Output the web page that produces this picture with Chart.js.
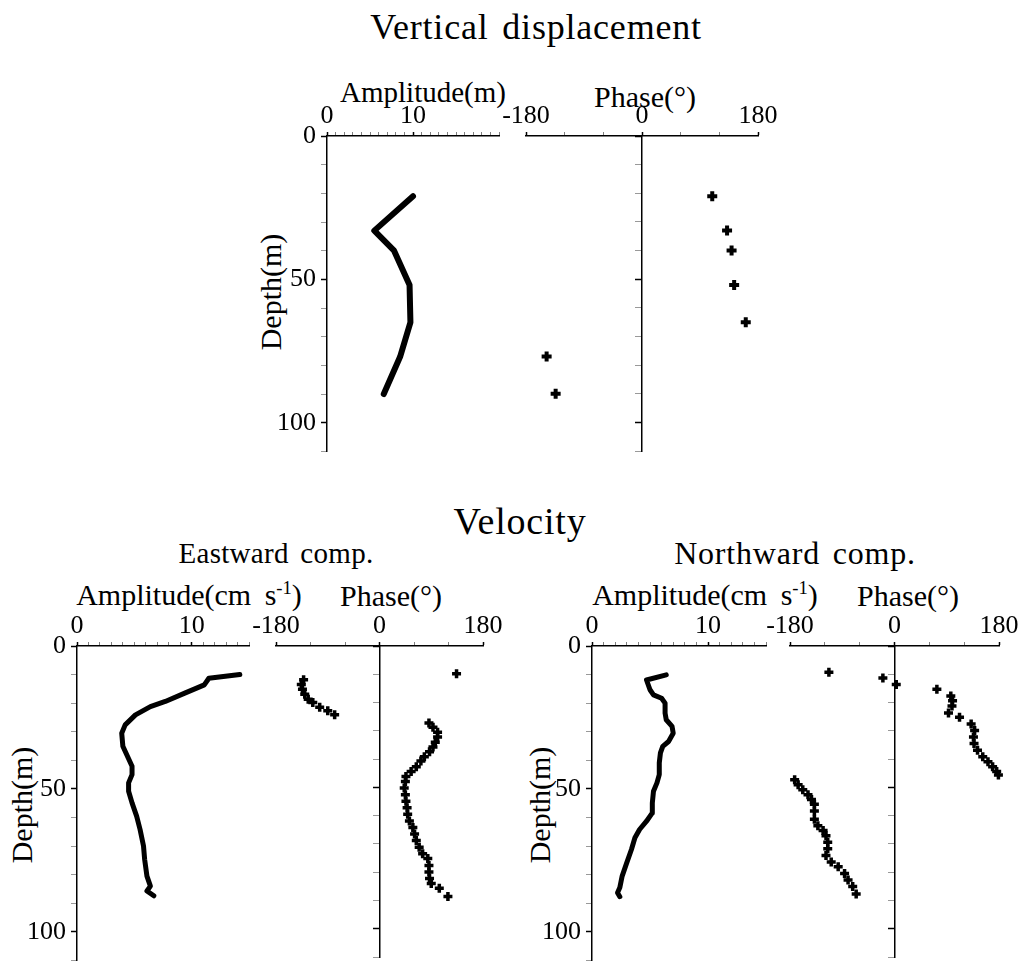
<!DOCTYPE html>
<html>
<head>
<meta charset="utf-8">
<script src="https://cdn.jsdelivr.net/npm/chart.js@4.4.0/dist/chart.umd.min.js"></script>
<style>
  body { margin: 0; background: #fff; }
  #page { position: relative; width: 1025px; height: 967px; overflow: hidden;
          font-family: "Liberation Serif", "Times New Roman", serif; color: #000; }
  canvas { position: absolute; }
  .lbl { position: absolute; transform: translate(-50%, -50%); white-space: nowrap; line-height: 1; }
  .rot { transform: translate(-50%, -50%) rotate(-90deg); }
  .title { letter-spacing: 0.8px; word-spacing: 4px; }
  .unit { word-spacing: 6px; }
  sup { font-size: 0.62em; line-height: 0; vertical-align: 0.6em; }
</style>
</head>
<body>
<div id="page">
  <div class="lbl title" style="left:536px;top:27px;font-size:36px">Vertical displacement</div>
  <div class="lbl" style="left:423px;top:92px;font-size:29px">Amplitude(m)</div>
  <div class="lbl" style="left:645px;top:97px;font-size:30px">Phase(°)</div>
  <div class="lbl rot" style="left:271px;top:292px;font-size:30px">Depth(m)</div>

  <div class="lbl title" style="left:520px;top:521px;font-size:38px">Velocity</div>
  <div class="lbl title" style="left:276px;top:553px;font-size:29px;letter-spacing:0.3px">Eastward comp.</div>
  <div class="lbl title" style="left:795px;top:553px;font-size:32px">Northward comp.</div>
  <div class="lbl unit" style="left:189px;top:595px;font-size:30px">Amplitude(cm s<sup>-1</sup>)</div>
  <div class="lbl" style="left:391px;top:596px;font-size:30px">Phase(°)</div>
  <div class="lbl unit" style="left:705px;top:595px;font-size:30px">Amplitude(cm s<sup>-1</sup>)</div>
  <div class="lbl" style="left:908px;top:596px;font-size:30px">Phase(°)</div>
  <div class="lbl rot" style="left:22px;top:805px;font-size:30px">Depth(m)</div>
  <div class="lbl rot" style="left:540px;top:805px;font-size:30px">Depth(m)</div>

  <canvas id="vdAmpChart" width="250" height="376" style="left:257px;top:96px"></canvas>
  <canvas id="vdPhaseChart" width="292" height="364" style="left:496px;top:96px"></canvas>
  <canvas id="ewAmpChart" width="250" height="375" style="left:7px;top:606px"></canvas>
  <canvas id="ewPhaseChart" width="267" height="359" style="left:246px;top:606px"></canvas>
  <canvas id="nsAmpChart" width="252" height="375" style="left:522px;top:606px"></canvas>
  <canvas id="nsPhaseChart" width="263" height="359" style="left:760px;top:606px"></canvas>
</div>

<script>
// vertical displacement (m) and phase (deg) against depth (m)
const vdDepth = [21, 33, 40, 52, 65, 77, 90];
const vdAmp = [10.0, 5.5, 7.8, 9.6, 9.7, 8.5, 6.6];
const vdPhase = [109, 132, 139, 143, 161, -148, -134];

// eastward velocity amplitude (cm/s)
const ewAmpDepth = [10, 11.3, 13.6, 16.5, 19.4, 21.2, 24.1, 27.6, 30.5, 35.1, 38.6, 42.1, 45, 47.9,
  50.8, 54.9, 59.5, 64.2, 70, 74.7, 80.5, 84, 85.7, 87.4];
const ewAmp = [14.2, 11.5, 11.1, 9.4, 7.7, 6.4, 5.1, 4.2, 3.9, 4.0, 4.4, 4.8, 4.8, 4.5,
  4.5, 4.8, 5.2, 5.5, 5.8, 5.9, 6.1, 6.4, 6.1, 6.7];

// eastward velocity phase (deg)
const ewPhaseDepth = [9.8, 11.9, 13.6, 15.3, 17.1, 18.8, 20, 21.7, 22.9, 24.3,
  27.2, 28.7, 30.5, 32.2, 34, 35.7, 37.4, 39.2, 40.7, 42.7, 44.4, 46.2, 47.9, 50.2, 52.6,
  54.9, 57.2, 59.5, 61.9, 64.2, 66.5, 68.8, 71.2, 73.5, 75.2, 77.6, 79.9, 82.2, 84, 85.7, 88.6];
const ewPhase = [134, -132, -136, -134, -130, -124, -116, -104, -90, -78,
  86, 93, 101, 101, 97, 93, 87, 78, 72, 64, 55, 46, 45, 43, 45,
  46, 48, 49, 52, 58, 61, 64, 69, 75, 84, 86, 86, 87, 90, 104, 119];

// northward velocity amplitude (cm/s)
const nsAmpDepth = [10.1, 11.9, 15.3, 17.1, 18.3, 20, 23.5, 25.8, 28.1, 30.5, 33.4, 35.1, 37.4, 40.9,
  45, 47.9, 50.8, 54.9, 58.4, 61.3, 64.2, 67.1, 71.2, 75.8, 80.5, 84.5, 86.3, 87.7];
const nsAmp = [6.4, 4.7, 5.0, 5.3, 6.0, 6.3, 6.3, 6.4, 6.9, 7.0, 6.6, 6.1, 5.9, 5.8,
  5.8, 5.6, 5.3, 5.2, 5.2, 4.7, 4.1, 3.7, 3.4, 3.0, 2.6, 2.4, 2.2, 2.4];

// northward velocity phase (deg)
const nsPhaseDepth = [9.3, 11.3, 13.6, 15.3, 17.7, 19.4, 21.2, 23.7, 25.2, 27.6, 29.9, 32.2, 34.5,
  36.9, 39.2, 40.9, 42.7, 44.4, 45.6, 47.3, 49.1, 50.8, 52.6, 54.3, 56, 58.4, 61.3, 63.6, 65.3,
  67.1, 69.4, 71.7, 74.1, 76.4, 78.1, 80.5, 82.8, 85.1, 87.7];
const nsPhase = [-113, -20, 3, 73, 97, 100, 99, 93, 112, 132, 138, 136, 137,
  143, 152, 161, 169, 176, 179, -172, -166, -158, -149, -143, -138, -138, -138, -132, -123,
  -118, -115, -115, -118, -109, -97, -86, -80, -72, -66];

const ampTicks = [0, 10];
const phaseTicks = [-180, 0, 180];
const depthTicks = [0, 50, 100];

const tickFont = { family: "Liberation Serif", size: 26 };

function toPoints(xs, ys) {
  return ys.map((y, i) => ({ x: xs[i], y: y }));
}

// depth axis, 0 at the top; in the phase panels it sits on the 0 deg line
function depthAxis(atZero) {
  return {
    type: "linear",
    reverse: true,
    min: 0,
    max: 110,
    position: atZero ? { x: 0 } : "left",
    afterFit: (s) => { if (!atZero) s.width = 50; },
    ticks: {
      display: !atZero,
      stepSize: 10,
      autoSkip: false,
      padding: 5,
      color: "#000",
      font: tickFont,
      callback: (v) => (depthTicks.includes(v) ? v : "")
    },
    grid: {
      drawOnChartArea: false,
      tickLength: 6,
      tickColor: (c) => (depthTicks.includes(c.tick.value) ? "#000" : "rgba(0,0,0,0.4)"),
      tickWidth: (c) => (depthTicks.includes(c.tick.value) ? 1.5 : 1)
    },
    border: { color: "#000", width: 1.5 }
  };
}

function topAxis(min, max, step, labels) {
  return {
    type: "linear",
    position: "top",
    min: min,
    max: max,
    afterFit: (s) => { s.height = 40; },
    ticks: {
      stepSize: step,
      autoSkip: false,
      maxRotation: 0,
      padding: 0,
      color: "#000",
      font: tickFont,
      callback: (v) => (labels.includes(v) ? v : "")
    },
    grid: {
      drawOnChartArea: false,
      tickLength: 4,
      tickColor: (c) => (labels.includes(c.tick.value) ? "#000" : "rgba(0,0,0,0.5)"),
      tickWidth: (c) => (labels.includes(c.tick.value) ? 1.5 : 1)
    },
    border: { color: "#000", width: 1.5 }
  };
}

const baseOptions = {
  responsive: false,
  animation: false,
  events: [],
  plugins: { legend: { display: false }, tooltip: { enabled: false } }
};

function ampChart(id, xMax, depth, amp, lineWidth) {
  return new Chart(document.getElementById(id), {
    type: "scatter",
    data: {
      datasets: [{
        data: toPoints(amp, depth),
        showLine: true,
        borderColor: "#000",
        borderWidth: lineWidth,
        borderJoinStyle: "round",
        borderCapStyle: "round",
        pointRadius: 0,
        clip: false
      }]
    },
    options: {
      ...baseOptions,
      layout: { padding: { left: 20, right: 8, top: 0, bottom: 20 } },
      scales: {
        x: topAxis(0, xMax, 1, ampTicks),
        y: depthAxis(false)
      }
    }
  });
}

function phaseChart(id, depth, phase, radius, width, padRight, padBottom) {
  return new Chart(document.getElementById(id), {
    type: "scatter",
    data: {
      datasets: [{
        data: toPoints(phase, depth),
        pointStyle: "cross",
        pointRadius: radius,
        borderWidth: width,
        borderColor: "#000",
        backgroundColor: "#000",
        clip: false
      }]
    },
    options: {
      ...baseOptions,
      layout: { padding: { left: 30, right: padRight, top: 0, bottom: padBottom } },
      scales: {
        x: topAxis(-180, 180, 60, phaseTicks),
        y: depthAxis(true)
      }
    }
  });
}

ampChart("vdAmpChart", 20, vdDepth, vdAmp, 6);
phaseChart("vdPhaseChart", vdDepth, vdPhase, 5, 4, 30, 8);
ampChart("ewAmpChart", 15, ewAmpDepth, ewAmp, 5);
phaseChart("ewPhaseChart", ewPhaseDepth, ewPhase, 4.5, 3.5, 30, 4);
ampChart("nsAmpChart", 15, nsAmpDepth, nsAmp, 5);
phaseChart("nsPhaseChart", nsPhaseDepth, nsPhase, 4.5, 3.5, 24, 4);
</script>
</body>
</html>
